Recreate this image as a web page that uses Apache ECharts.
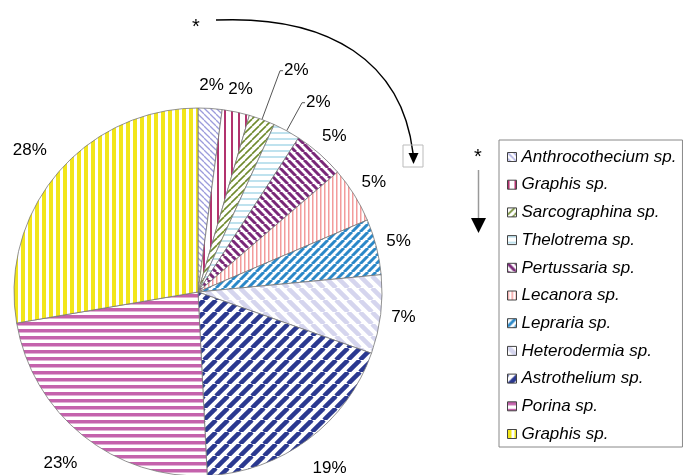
<!DOCTYPE html>
<html><head><meta charset="utf-8">
<script src="https://cdn.jsdelivr.net/npm/echarts@6/dist/echarts.min.js"></script>
<style>html,body{margin:0;padding:0;background:#fff}#c{width:683px;height:475px}</style>
</head><body><div id="c"></div>
<script>
// ---- data ----
const categories = ['Anthrocothecium sp.','Graphis sp.','Sarcographina sp.','Thelotrema sp.','Pertussaria sp.','Lecanora sp.','Lepraria sp.','Heterodermia sp.','Astrothelium sp.','Porina sp.','Graphis sp.'];
const values = [2.1, 2.4, 2.3, 2.4, 4.5, 4.9, 4.9, 6.9, 18.8, 23.1, 27.7];

// ---- styles ----
function pattern(kind, color, period, width) {
  const c = document.createElement('canvas');
  c.width = period; c.height = period;
  const ctx = c.getContext('2d');
  ctx.fillStyle = '#fff'; ctx.fillRect(0, 0, period, period);
  ctx.fillStyle = color; ctx.strokeStyle = color; ctx.lineWidth = width;
  if (kind === 'v') ctx.fillRect(0, 0, width, period);
  else if (kind === 'h') ctx.fillRect(0, 0, period, width);
  else {
    for (let k = -1; k <= 1; k++) {
      ctx.beginPath();
      if (kind === '/') { ctx.moveTo(k * period, period); ctx.lineTo(k * period + period, 0); }
      else { ctx.moveTo(k * period, 0); ctx.lineTo(k * period + period, period); }
      ctx.stroke();
    }
  }
  return { image: c, repeat: 'repeat' };
}
const fills = [
  pattern('\\', '#9c9cdc', 6, 1.3),
  pattern('v', '#b2336e', 7, 2),
  pattern('/', '#6f8a2e', 7, 1.6),
  pattern('h', '#bfe2ee', 6, 2),
  pattern('\\', '#7a2878', 8, 3),
  pattern('v', '#f39c9c', 4, 1.5),
  pattern('/', '#2b88c8', 8, 3),
  pattern('\\', '#d5d5ee', 12, 4.5),
  pattern('/', '#2b3990', 12, 4.5),
  pattern('h', '#c462ac', 7, 3.5),
  pattern('v', '#f2e61a', 7, 4)
];
const labelMode = ['near','near','leader','leader','near','near','near','near','far','far','far'];
const leaderLen = {2: 52, 3: 32};
const FONT = 'Liberation Sans';
const labelText = { fontFamily: FONT, fontSize: 17, color: '#000' };
const keys = categories.map((n, i) => i + '|' + n);
const fmt = p => Math.round(p.percent) + '%';

const mainData = values.map((v, i) => {
  const d = { name: keys[i], value: v, itemStyle: { color: fills[i] } };
  if (labelMode[i] === 'leader') {
    d.label = { show: true, position: 'outside', formatter: fmt, distanceToLabelLine: 1, ...labelText };
    d.labelLine = { show: true, length: leaderLen[i], length2: 3, lineStyle: { color: '#555', width: 1 } };
  }
  return d;
});
function overlay(mode, outer) {
  return {
    type: 'pie', center: [198, 292], radius: [184, outer], startAngle: 90, clockwise: true,
    silent: true, avoidLabelOverlap: false, emphasis: { disabled: true },
    itemStyle: { color: 'rgba(0,0,0,0)', borderWidth: 0 },
    label: { show: false }, labelLine: { show: false },
    data: values.map((v, i) => ({
      name: keys[i], value: v,
      label: { show: labelMode[i] === mode, position: 'inside', formatter: fmt, ...labelText }
    }))
  };
}

const chart = echarts.init(document.getElementById('c'), null, { renderer: 'canvas' });
chart.setOption({
  animation: false,
  backgroundColor: '#fff',
  legend: {
    orient: 'vertical', left: 499, top: 140,
    data: keys, formatter: n => n.split('|')[1],
    icon: 'rect', itemWidth: 9, itemHeight: 9, itemGap: 7.7,
    padding: [7, 6, 3, 8],
    borderColor: '#888', borderWidth: 1,
    selectedMode: false,
    itemStyle: { borderColor: '#444', borderWidth: 1 },
    textStyle: { fontFamily: FONT, fontStyle: 'italic', fontSize: 17, color: '#000', lineHeight: 20 }
  },
  graphic: [
    { type: 'text', style: { text: '*', x: 196, y: 27.5, align: 'center', verticalAlign: 'middle', font: '20px "Liberation Sans"', fill: '#000' } },
    { type: 'bezierCurve', shape: { x1: 216, y1: 20, cpx1: 330, cpy1: 15, cpx2: 402, cpy2: 62, x2: 413, y2: 153 }, style: { stroke: '#000', lineWidth: 1.5, fill: null } },
    { type: 'rect', shape: { x: 403, y: 145, width: 20, height: 22 }, style: { fill: null, stroke: '#bbb', lineWidth: 1 } },
    { type: 'polygon', shape: { points: [[408.5, 153], [418.5, 153], [413.5, 164]] }, style: { fill: '#000' } },
    { type: 'text', style: { text: '*', x: 478, y: 157.5, align: 'center', verticalAlign: 'middle', font: '20px "Liberation Sans"', fill: '#000' } },
    { type: 'line', shape: { x1: 478.5, y1: 170, x2: 478.5, y2: 220 }, style: { stroke: '#999', lineWidth: 1.5 } },
    { type: 'polygon', shape: { points: [[471, 218], [486, 218], [478.5, 233]] }, style: { fill: '#000' } }
  ],
  series: [
    {
      type: 'pie', center: [198, 292], radius: 184, startAngle: 90, clockwise: true,
      avoidLabelOverlap: false, emphasis: { disabled: true },
      itemStyle: { borderColor: '#777', borderWidth: 0.8 },
      label: { show: false }, labelLine: { show: false },
      data: mainData
    },
    overlay('near', 224),
    overlay('far', 250)
  ]
});
</script></body></html>
